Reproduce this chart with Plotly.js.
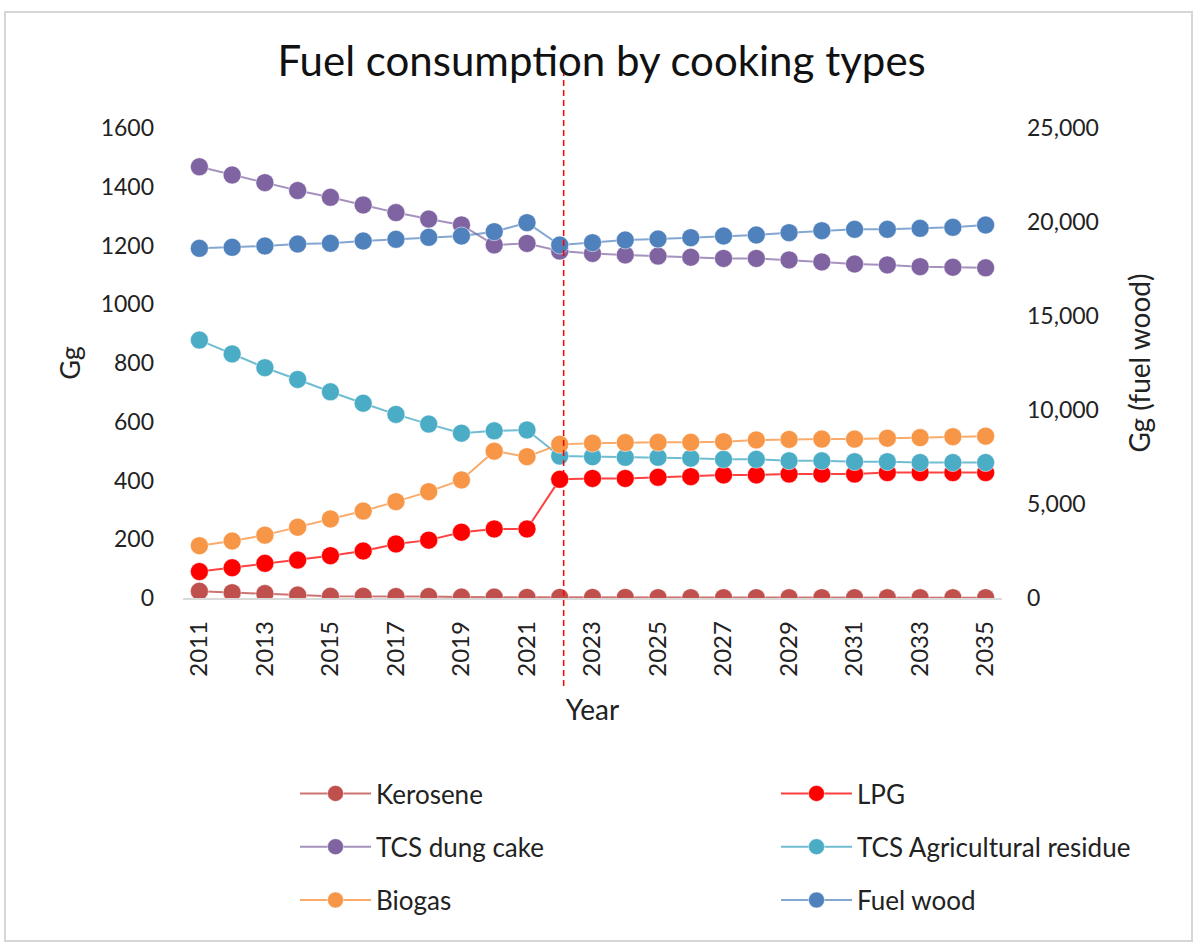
<!DOCTYPE html>
<html>
<head>
<meta charset="utf-8">
<script src="https://cdn.plot.ly/plotly-3.0.1.min.js"></script>
<style>html,body{margin:0;padding:0;background:#fff;}#chart{width:1196px;height:946px;}</style>
</head>
<body>
<div id="chart"></div>
<script>
const years = [2011,2012,2013,2014,2015,2016,2017,2018,2019,2020,2021,2022,2023,2024,2025,2026,2027,2028,2029,2030,2031,2032,2033,2034,2035];
const kerosene = [23,18,15,10,6,6,5,5,3,3,2,2,2,2,1,1,1,1,1,1,1,1,1,1,1];
const lpg = [90,103,118,129,144,160,184,197,224,235,235,404,407,407,411,413,419,419,422,422,422,427,427,427,427];
const dungCake = [1468,1440,1414,1387,1364,1338,1312,1290,1270,1202,1207,1181,1173,1168,1164,1160,1156,1156,1151,1144,1137,1134,1128,1126,1124];
const agriResidue = [878,831,784,744,702,663,625,592,561,569,572,483,481,479,479,476,472,472,467,467,464,464,461,461,461];
const biogas = [178,194,214,241,269,296,328,362,402,500,481,523,527,529,530,530,532,538,540,541,541,544,546,549,551];
const fuelWood = [18600,18654,18723,18829,18867,18989,19079,19185,19255,19484,19963,18776,18900,19042,19095,19166,19255,19308,19431,19537,19610,19610,19663,19716,19840];
const projectionStart = 2022.12;

const FONT = 'Lato, "Open Sans", sans-serif';

function series(name, y, color, lineColor, axis, legend, group) {
  return {
    type: 'scatter', mode: 'lines+markers', name: name, x: years, y: y,
    yaxis: axis, legend: legend, legendgroup: group,
    line: {color: lineColor, width: 2},
    marker: {color: color, size: 18, line: {color: 'rgba(255,255,255,0.5)', width: 1}}
  };
}

const data = [
  series('Kerosene', kerosene, '#C0504D', 'rgba(192,80,77,0.8)', 'y', 'legend', 'g1'),
  series('LPG', lpg, '#FF0000', 'rgba(255,0,0,0.75)', 'y', 'legend2', 'g2'),
  series('TCS dung cake', dungCake, '#8064A2', 'rgba(128,100,162,0.7)', 'y', 'legend', 'g3'),
  series('TCS Agricultural residue', agriResidue, '#4BACC6', 'rgba(75,172,198,0.8)', 'y', 'legend2', 'g4'),
  series('Biogas', biogas, '#F79646', 'rgba(247,150,70,0.8)', 'y', 'legend', 'g5'),
  series('Fuel wood', fuelWood, '#4F81BD', 'rgba(79,129,189,0.7)', 'y2', 'legend2', 'g6')
];

const L = 183, W = 819, T = 128, H = 470;
const px = v => (v - L) / W;
const py = v => (T + H - v) / H;

const legendCommon = {
  orientation: 'v', xanchor: 'left', yanchor: 'top',
  font: {family: FONT, size: 26, color: '#222'},
  bgcolor: 'rgba(0,0,0,0)', tracegroupgap: 16.5, itemwidth: 71,
  itemclick: false, itemdoubleclick: false
};

const layout = {
  width: 1196, height: 946,
  paper_bgcolor: '#fff', plot_bgcolor: '#fff',
  margin: {l: L, r: 1196 - L - W, t: T, b: 946 - T - H, pad: 0},
  font: {family: FONT, color: '#222'},
  title: {text: 'Fuel consumption by cooking types', font: {family: FONT, size: 42, color: '#111'},
          x: 0.503, xanchor: 'center', y: 0.935, yanchor: 'middle'},
  xaxis: {
    range: [2010.5, 2035.5], tickmode: 'linear', tick0: 2011, dtick: 2,
    tickangle: -90, showgrid: false, zeroline: false,
    showline: true, linecolor: '#d9d9d9', linewidth: 1.5,
    ticks: '', ticklabelstandoff: 12,
    tickfont: {family: FONT, size: 24, color: '#222'},
    title: {text: 'Year', font: {family: FONT, size: 28, color: '#222'}, standoff: 24}
  },
  yaxis: {
    range: [0, 1600], tickmode: 'linear', tick0: 0, dtick: 200, tickformat: 'd',
    showgrid: false, zeroline: false, showline: false, ticks: '',
    ticklabelstandoff: 28,
    tickfont: {family: FONT, size: 23, color: '#222'},
    title: {text: 'Gg', font: {family: FONT, size: 27, color: '#222'}, standoff: 12}
  },
  yaxis2: {
    range: [0, 25000], tickmode: 'linear', tick0: 0, dtick: 5000, tickformat: ',d',
    overlaying: 'y', side: 'right',
    showgrid: false, zeroline: false, showline: false, ticks: '',
    ticklabelstandoff: 24,
    tickfont: {family: FONT, size: 23, color: '#222'},
    title: {text: 'Gg (fuel wood)', font: {family: FONT, size: 28, color: '#222'}, standoff: 32}
  },
  legend: Object.assign({}, legendCommon, {x: px(295), y: py(770)}),
  legend2: Object.assign({}, legendCommon, {x: px(776), y: py(770)}),
  shapes: [
    {type: 'line', xref: 'x', yref: 'paper', x0: projectionStart, x1: projectionStart,
     y0: py(686), y1: py(66), line: {color: '#FF0000', width: 1.5, dash: '6px,4px'}},
    {type: 'rect', xref: 'paper', yref: 'paper', x0: px(5), x1: px(1192), y0: py(941), y1: py(12),
     line: {color: '#d6d6d6', width: 2}, fillcolor: 'rgba(0,0,0,0)', layer: 'below'}
  ],
  showlegend: true
};

Plotly.newPlot('chart', data, layout, {displayModeBar: false, staticPlot: true});
</script>
</body>
</html>
